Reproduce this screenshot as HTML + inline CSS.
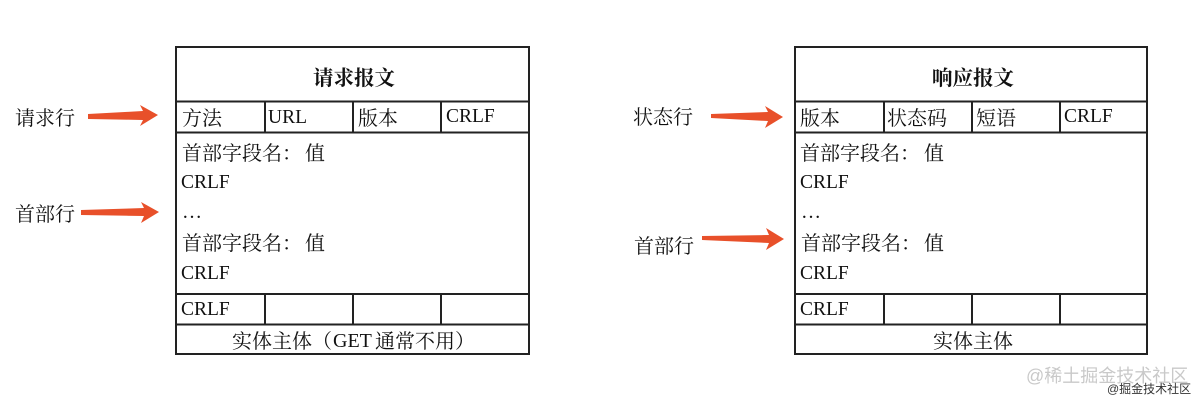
<!DOCTYPE html>
<html lang="zh">
<head>
<meta charset="utf-8">
<style>
html,body{margin:0;padding:0;background:#fff;width:1200px;height:401px;overflow:hidden}
svg{display:block;filter:blur(.35px)}
text{font-family:"Liberation Serif","Noto Serif CJK SC",serif;font-size:20px;fill:#111}
.l{stroke:#222;stroke-width:2;fill:none}
.a{fill:#e8502a}
</style>
</head>
<body>
<svg width="1200" height="401" viewBox="0 0 1200 401" xmlns="http://www.w3.org/2000/svg">
<!-- left box -->
<rect class="l" x="176" y="47" width="353" height="307"/>
<path class="l" d="M176 101.500H529M176 132.500H529M176 294H529M176 324.500H529M265 101.500V132.500M353 101.500V132.500M441 101.500V132.500M265 294V324.500M353 294V324.500M441 294V324.500"/>
<text x="313" y="85" style="font-weight:700;font-size:20.500px">请求报文</text>
<text x="182" y="125">方法</text>
<text x="268" y="123" style="font-size:19.500px">URL</text>
<text x="358" y="125">版本</text>
<text x="446" y="122" style="font-size:19.500px">CRLF</text>
<text x="182" y="160" style="font-family:'Noto Serif CJK SC',serif">首部字段名：</text><text x="305" y="160">值</text>
<text x="181" y="188" style="font-size:19.500px">CRLF</text>
<text x="182" y="218">…</text>
<text x="182" y="250" style="font-family:'Noto Serif CJK SC',serif">首部字段名：</text><text x="305" y="250">值</text>
<text x="181" y="279" style="font-size:19.500px">CRLF</text>
<text x="181" y="315" style="font-size:19.500px">CRLF</text>
<text x="232" y="348" style="font-family:'Noto Serif CJK SC',serif">实体主体（</text><text x="333" y="347">GET</text><text x="375" y="348" style="font-family:'Noto Serif CJK SC',serif">通常不用）</text>
<!-- right box -->
<rect class="l" x="795" y="47" width="352" height="307"/>
<path class="l" d="M795 101.500H1147M795 132.500H1147M795 294H1147M795 324.500H1147M884 101.500V132.500M972 101.500V132.500M1060 101.500V132.500M884 294V324.500M972 294V324.500M1060 294V324.500"/>
<text x="932" y="85" style="font-weight:700;font-size:20.500px">响应报文</text>
<text x="800" y="125">版本</text>
<text x="887" y="125">状态码</text>
<text x="976" y="125">短语</text>
<text x="1064" y="122" style="font-size:19.500px">CRLF</text>
<text x="800" y="160" style="font-family:'Noto Serif CJK SC',serif">首部字段名：</text><text x="924" y="160">值</text>
<text x="800" y="188" style="font-size:19.500px">CRLF</text>
<text x="801" y="218">…</text>
<text x="801" y="250" style="font-family:'Noto Serif CJK SC',serif">首部字段名：</text><text x="924" y="250">值</text>
<text x="800" y="279" style="font-size:19.500px">CRLF</text>
<text x="800" y="315" style="font-size:19.500px">CRLF</text>
<text x="933" y="348">实体主体</text>
<!-- left labels -->
<text x="15" y="125">请求行</text>
<text x="15" y="221">首部行</text>
<text x="633" y="124">状态行</text>
<text x="634" y="253">首部行</text>
<!-- arrows -->
<polygon class="a" points="88,114 143,111 140,105 158,115 140,126 143,120 88,119"/>
<polygon class="a" points="81,210 144,208 141,202 159,212 141,223 144,216 81,215"/>
<polygon class="a" points="711,114 768,112 765,106 783,117 765,128 768,121 711,118"/>
<polygon class="a" points="702,236 769,235 766,228 784,239 766,250 769,243 702,240"/>
<!-- watermark -->
<text x="1026" y="382" style="font-family:'Liberation Sans','Noto Sans CJK SC',sans-serif;font-size:18px;fill:#c9c9c9">@稀土掘金技术社区</text>
<text x="1107" y="393" style="font-family:'Liberation Sans','Noto Sans CJK SC',sans-serif;font-size:12px;fill:#333">@掘金技术社区</text>
</svg>
</body>
</html>
